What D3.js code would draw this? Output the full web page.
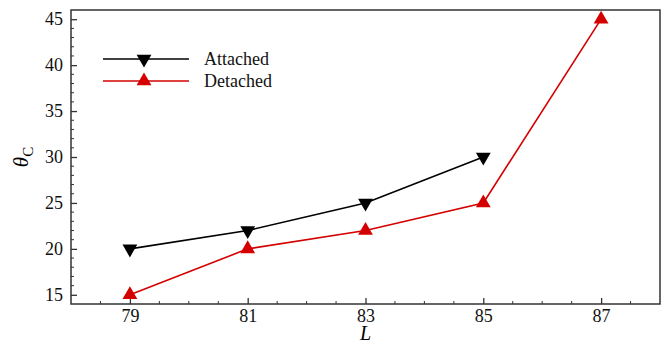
<!DOCTYPE html>
<html>
<head>
<meta charset="utf-8">
<script src="https://cdn.jsdelivr.net/npm/d3@7"></script>
<style>
  body { margin: 0; background: #fff; }
  svg text { font-family: "Liberation Serif", "Times New Roman", serif; }
</style>
</head>
<body>
<svg id="chart" width="662" height="343"></svg>
<script>
// data
var lengths = [79, 81, 83, 85, 87];
var attached = [20, 22, 25, 30];
var detached = [15, 20, 22, 25, 45];
var seriesNames = ["Attached", "Detached"];
var xTicks = [79, 81, 83, 85, 87];
var yTicks = [15, 20, 25, 30, 35, 40, 45];

var svg = d3.select("#chart"),
    margin = {top: 10, right: 2, bottom: 39, left: 71},
    width = +svg.attr("width") - margin.left - margin.right,
    height = +svg.attr("height") - margin.top - margin.bottom,
    g = svg.append("g").attr("transform", "translate(" + margin.left + "," + margin.top + ")");

var x = d3.scaleLinear().domain([78, 88]).range([0, width]);
var y = d3.scaleLinear().domain([14, 46]).range([height, 0]);

var axisColor = "#333";
var serif = "Liberation Serif, Times New Roman, serif";

// minor ticks
var xMinor = d3.range(78.5, 88, 0.5).filter(function(v) { return xTicks.indexOf(v) < 0; });
var yMinor = d3.range(15, 46, 1).filter(function(v) { return yTicks.indexOf(v) < 0; });

g.append("g").selectAll("line").data(xMinor).enter().append("line")
    .attr("x1", function(d) { return x(d); }).attr("x2", function(d) { return x(d); })
    .attr("y1", height).attr("y2", height - 3)
    .attr("stroke", axisColor).attr("stroke-width", 1);

g.append("g").selectAll("line").data(yMinor).enter().append("line")
    .attr("x1", 0).attr("x2", 3)
    .attr("y1", function(d) { return y(d); }).attr("y2", function(d) { return y(d); })
    .attr("stroke", axisColor).attr("stroke-width", 1);

// major axes, ticks pointing inward
var xAxis = g.append("g")
    .attr("transform", "translate(0," + height + ")")
    .call(d3.axisBottom(x).tickValues(xTicks).tickSizeInner(-6).tickSizeOuter(0).tickPadding(5));
var yAxis = g.append("g")
    .call(d3.axisLeft(y).tickValues(yTicks).tickSizeInner(-6).tickSizeOuter(0).tickPadding(8));

[xAxis, yAxis].forEach(function(a) {
  a.attr("font-family", serif).attr("font-size", 18);
  a.select(".domain").remove();
  a.selectAll(".tick line").attr("stroke", axisColor).attr("stroke-width", 1.3);
  a.selectAll(".tick text").attr("fill", "#111");
});

// frame
g.append("rect")
    .attr("width", width).attr("height", height)
    .attr("fill", "none").attr("stroke", axisColor).attr("stroke-width", 1.5);

// axis titles
svg.append("text")
    .attr("x", margin.left + width / 2)
    .attr("y", 340)
    .attr("text-anchor", "middle")
    .attr("font-family", serif)
    .attr("font-size", 20)
    .attr("font-style", "italic")
    .text("L");

var yl = svg.append("text")
    .attr("transform", "translate(28," + (margin.top + height / 2) + ") rotate(-90)")
    .attr("text-anchor", "middle")
    .attr("font-family", serif)
    .attr("font-size", 21);
yl.append("tspan").attr("font-style", "italic").text("θ");
yl.append("tspan").attr("dy", 5).attr("font-size", 15).text("C");

var colors = ["#000000", "#d40000"];
var tri = d3.symbol().type(d3.symbolTriangle).size(95);

var line = d3.line()
    .x(function(d) { return x(d[0]); })
    .y(function(d) { return y(d[1]); });

var series = [attached, detached].map(function(vals) {
  return vals.map(function(v, i) { return [lengths[i], v]; });
});

series.forEach(function(pts, k) {
  g.append("path")
      .datum(pts)
      .attr("fill", "none")
      .attr("stroke", colors[k])
      .attr("stroke-width", 1.6)
      .attr("d", line);

  g.append("g").selectAll("path").data(pts).enter().append("path")
      .attr("d", tri)
      .attr("fill", colors[k])
      .attr("transform", function(d) {
        return "translate(" + x(d[0]) + "," + y(d[1]) + ")" + (k == 0 ? " rotate(180)" : "");
      });
});

// legend
var legend = svg.append("g").selectAll("g")
    .data(seriesNames)
    .enter().append("g")
    .attr("transform", function(d, i) { return "translate(0," + (59 + i * 22) + ")"; });

legend.append("line")
    .attr("x1", 103).attr("x2", 189)
    .attr("stroke", function(d, i) { return colors[i]; })
    .attr("stroke-width", 1.6);

legend.append("path")
    .attr("d", tri)
    .attr("fill", function(d, i) { return colors[i]; })
    .attr("transform", function(d, i) { return "translate(144,0)" + (i == 0 ? " rotate(180)" : ""); });

legend.append("text")
    .attr("x", 204).attr("y", 6)
    .attr("font-family", serif)
    .attr("font-size", 18)
    .attr("fill", "#111")
    .text(function(d) { return d; });
</script>
</body>
</html>
